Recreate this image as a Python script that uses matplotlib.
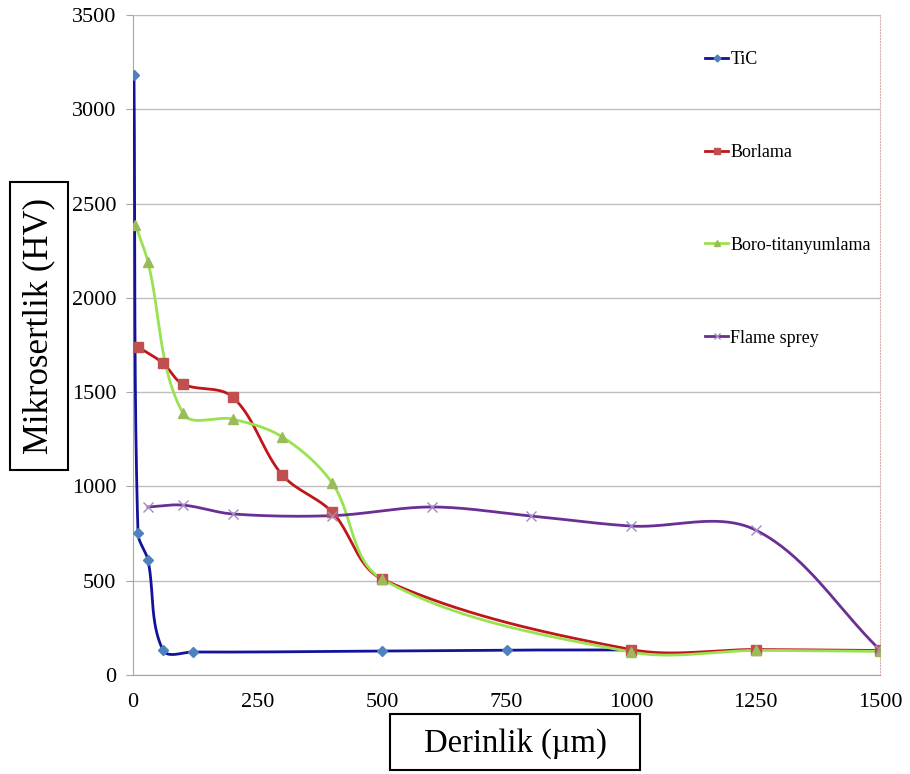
import numpy as np
import matplotlib
matplotlib.use("Agg")
import matplotlib.pyplot as plt
from matplotlib.lines import Line2D

plt.rcParams['font.family'] = ['Liberation Serif', 'DejaVu Serif']

# -------------------------------
# Data (depth in um, hardness in HV)
# -------------------------------
tic_x = [2, 10, 30, 60, 120, 500, 750, 1000]
tic_y = [3180, 752, 610, 133, 122, 127, 132, 133]

borlama_x = [10, 60, 100, 200, 300, 400, 500, 1000, 1250, 1500]
borlama_y = [1740, 1654, 1543, 1474, 1060, 864, 509, 135, 135, 130]

boro_x = [5, 30, 100, 200, 300, 400, 500, 1000, 1250, 1500]
boro_y = [2386, 2190, 1389, 1357, 1262, 1018, 509, 122, 130, 125]

flame_x = [30, 100, 200, 400, 600, 800, 1000, 1250, 1500]
flame_y = [891, 901, 854, 845, 891, 843, 790, 769, 133]

y_ticks = [0, 500, 1000, 1500, 2000, 2500, 3000, 3500]
x_ticks = [0, 250, 500, 750, 1000, 1250, 1500]

fig = plt.figure(figsize=(9.1, 7.74), dpi=100)
ax = fig.add_axes([133 / 910, 99 / 774, 747 / 910, 660 / 774])
ax.set_xlim(0, 1500)
ax.set_ylim(0, 3500)


def smooth(xs, ys, n=40, k=1.0):
    # smoothed line like the spreadsheet one: bezier in pixel space,
    # tangent length tied to the segment length so short steps don't overshoot
    pts = ax.transData.transform(np.column_stack([xs, ys]))
    p = np.vstack([pts[0], pts, pts[-1]])
    t = np.linspace(0, 1, n)[:, None]
    out = []
    for i in range(1, len(p) - 2):
        p0, p1, p2, p3 = p[i - 1], p[i], p[i + 1], p[i + 2]
        seg_len = np.linalg.norm(p2 - p1)
        d1 = p2 - p0
        d2 = p3 - p1
        d1 = d1 / (np.linalg.norm(d1) + 1e-9)
        d2 = d2 / (np.linalg.norm(d2) + 1e-9)
        c1 = p1 + d1 * seg_len / 3 * k
        c2 = p2 - d2 * seg_len / 3 * k
        seg = ((1 - t) ** 3) * p1 + 3 * ((1 - t) ** 2) * t * c1 \
            + 3 * (1 - t) * t ** 2 * c2 + t ** 3 * p2
        out.append(seg)
    out = np.vstack(out)
    d = ax.transData.inverted().transform(out)
    return d[:, 0], d[:, 1]


series = [
    ("TiC", tic_x, tic_y, "#12129a", "#4f81bd", "D", 5),
    ("Borlama", borlama_x, borlama_y, "#c0161b", "#c0504d", "s", 7),
    ("Boro-titanyumlama", boro_x, boro_y, "#9ae24f", "#9bbb59", "^", 7),
    ("Flame sprey", flame_x, flame_y, "#6a2f95", "#a08cc0", "x", 7),
]

handles = []
for name, xs, ys, lc, mc, mk, ms in series:
    sx, sy = smooth(xs, ys)
    ax.plot(sx, sy, color=lc, linewidth=2.0, zorder=3)
    ax.plot(xs, ys, linestyle="none", marker=mk, markersize=ms,
            color=mc, markeredgecolor=mc, markeredgewidth=1.0, zorder=4)
    handles.append(Line2D([0], [0], color=lc, linewidth=2.0, marker=mk,
                          markersize=ms * 0.7, markerfacecolor=mc,
                          markeredgecolor=mc, label=name))

# grid and frame
ax.set_yticks(y_ticks)
ax.set_xticks(x_ticks)
ax.yaxis.grid(True, color="#bfbfbf", linewidth=1.0)
ax.set_axisbelow(True)
for side in ["left", "bottom"]:
    ax.spines[side].set_color("#a6a6a6")
ax.spines["top"].set_color("#d8b0b0")
ax.spines["top"].set_linewidth(0.8)
ax.spines["right"].set_color("#d8b0b0")
ax.spines["right"].set_linestyle(":")
ax.tick_params(axis="y", length=5, color="#a6a6a6", pad=7, labelsize=16)
ax.tick_params(axis="x", length=0, pad=13, labelsize=16)

leg = ax.legend(handles=handles, loc="upper left", bbox_to_anchor=(0.744, 0.97),
                frameon=False, fontsize=13, handlelength=1.3,
                handletextpad=0.1, labelspacing=4.2)

# boxed axis titles
fig.patches.append(plt.Rectangle((10 / 910, 1 - 470 / 774), 58 / 910, 288 / 774,
                                 transform=fig.transFigure, facecolor="white",
                                 edgecolor="black", linewidth=1.5, zorder=10))
fig.text(39 / 910, 1 - 326 / 774, "Mikrosertlik (HV)", rotation=90,
         ha="center", va="center", fontsize=25, zorder=11)
fig.patches.append(plt.Rectangle((390 / 910, 1 - 770 / 774), 250 / 910, 56 / 774,
                                 transform=fig.transFigure, facecolor="white",
                                 edgecolor="black", linewidth=1.5, zorder=10))
fig.text(515 / 910, 1 - 744 / 774, "Derinlik (\u00b5m)",
         ha="center", va="center", fontsize=23.5, zorder=11)

fig.savefig("out.png", dpi=100)
